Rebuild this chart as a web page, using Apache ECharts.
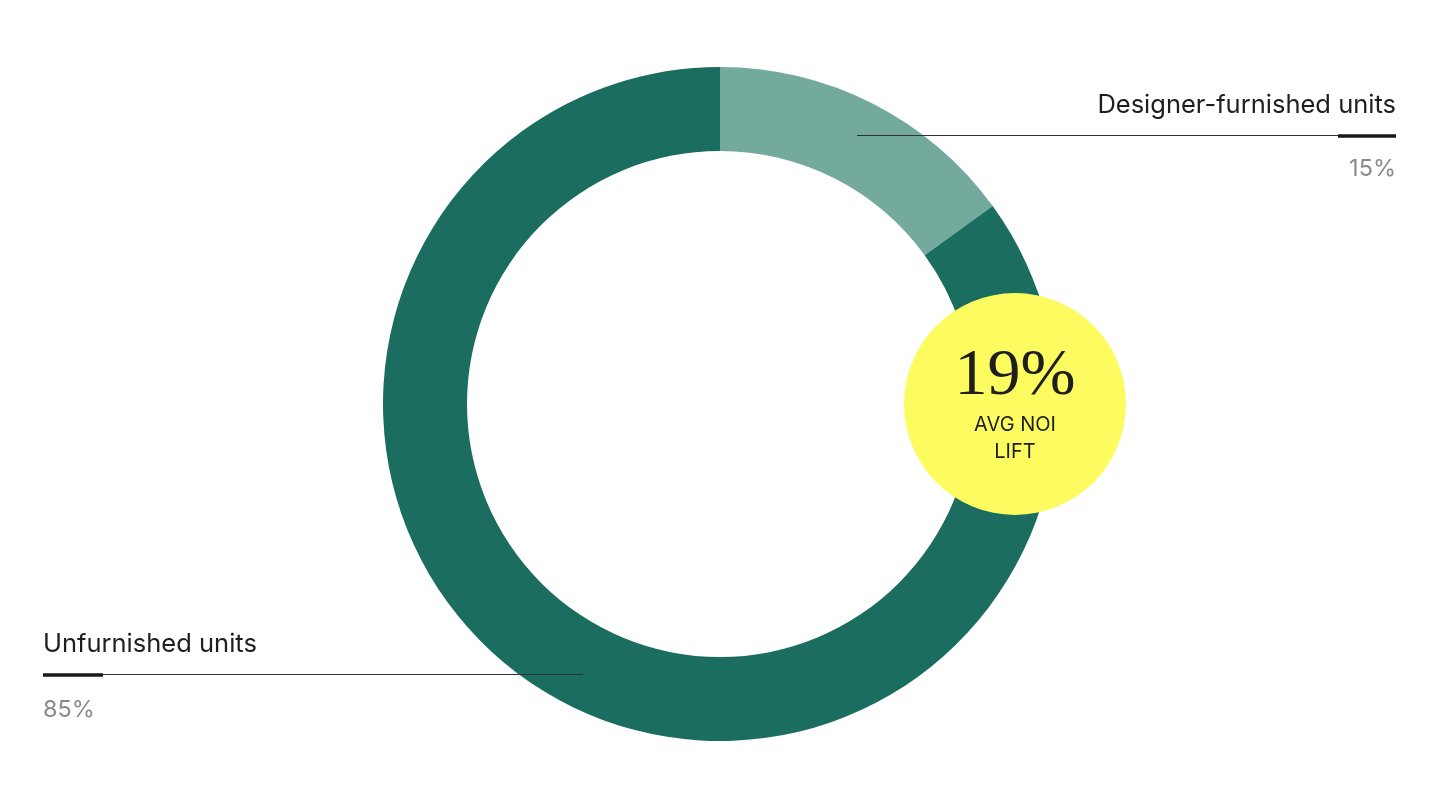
<!DOCTYPE html>
<html>
<head>
<meta charset="utf-8">
<script src="https://cdn.jsdelivr.net/npm/echarts@6/dist/echarts.min.js"></script>
<style>
html,body{margin:0;padding:0;background:#fff;}
#chart{width:1440px;height:809px;}
</style>
</head>
<body>
<div id="chart"></div>
<script>
const categories = ['Designer-furnished units', 'Unfurnished units'];
const values = [15, 85];
const colors = ['#74a99e', '#1b6e5f'];
const calloutValue = '19%';
const calloutLines = ['AVG NOI', 'LIFT'];

const chart = echarts.init(document.getElementById('chart'), null, {renderer: 'canvas'});
const sans = 'Inter, "Noto Sans", sans-serif';

chart.setOption({
  animation: false,
  backgroundColor: '#ffffff',
  series: [{
    type: 'pie',
    center: [720, 404],
    radius: [253, 337],
    startAngle: 90,
    clockwise: true,
    silent: true,
    label: {show: false},
    labelLine: {show: false},
    itemStyle: {borderWidth: 0},
    data: categories.map((c, i) => ({name: c, value: values[i], itemStyle: {color: colors[i]}}))
  }],
  graphic: [
    // callout lines
    {type: 'line', z: 10, shape: {x1: 857, y1: 135.5, x2: 1396, y2: 135.5}, style: {stroke: '#333', lineWidth: 1.2}},
    {type: 'line', z: 11, shape: {x1: 1338, y1: 136, x2: 1396, y2: 136}, style: {stroke: '#1a1a1a', lineWidth: 3.5}},
    {type: 'line', z: 10, shape: {x1: 43, y1: 674.5, x2: 583, y2: 674.5}, style: {stroke: '#333', lineWidth: 1.2}},
    {type: 'line', z: 11, shape: {x1: 43, y1: 675, x2: 103, y2: 675}, style: {stroke: '#1a1a1a', lineWidth: 3.5}},
    // labels
    {type: 'text', z: 10, x: 1396, y: 105, style: {text: categories[0], fill: '#1e1e1e', font: '400 25.5px ' + sans, align: 'right', verticalAlign: 'middle'}},
    {type: 'text', z: 10, x: 1396, y: 169, style: {text: values[0] + '%', fill: '#8a8a8a', font: '400 23.5px ' + sans, align: 'right', verticalAlign: 'middle'}},
    {type: 'text', z: 10, x: 43, y: 644, style: {text: categories[1], fill: '#1e1e1e', font: '400 25.5px ' + sans, align: 'left', verticalAlign: 'middle'}},
    {type: 'text', z: 10, x: 43, y: 710, style: {text: values[1] + '%', fill: '#8a8a8a', font: '400 23.5px ' + sans, align: 'left', verticalAlign: 'middle'}},
    // yellow callout
    {type: 'circle', z: 20, shape: {cx: 1015, cy: 404, r: 111}, style: {fill: '#fcfc60'}},
    {type: 'text', z: 21, x: 1015, y: 377, style: {text: calloutValue, fill: '#1e1e1e', font: '400 66px "Liberation Serif", "DejaVu Serif", serif', align: 'center', verticalAlign: 'middle'}},
    {type: 'text', z: 21, x: 1015, y: 425, style: {text: calloutLines[0], fill: '#1e1e1e', font: '400 20px ' + sans, align: 'center', verticalAlign: 'middle'}},
    {type: 'text', z: 21, x: 1015, y: 452, style: {text: calloutLines[1], fill: '#1e1e1e', font: '400 20px ' + sans, align: 'center', verticalAlign: 'middle'}}
  ]
});
</script>
</body>
</html>
